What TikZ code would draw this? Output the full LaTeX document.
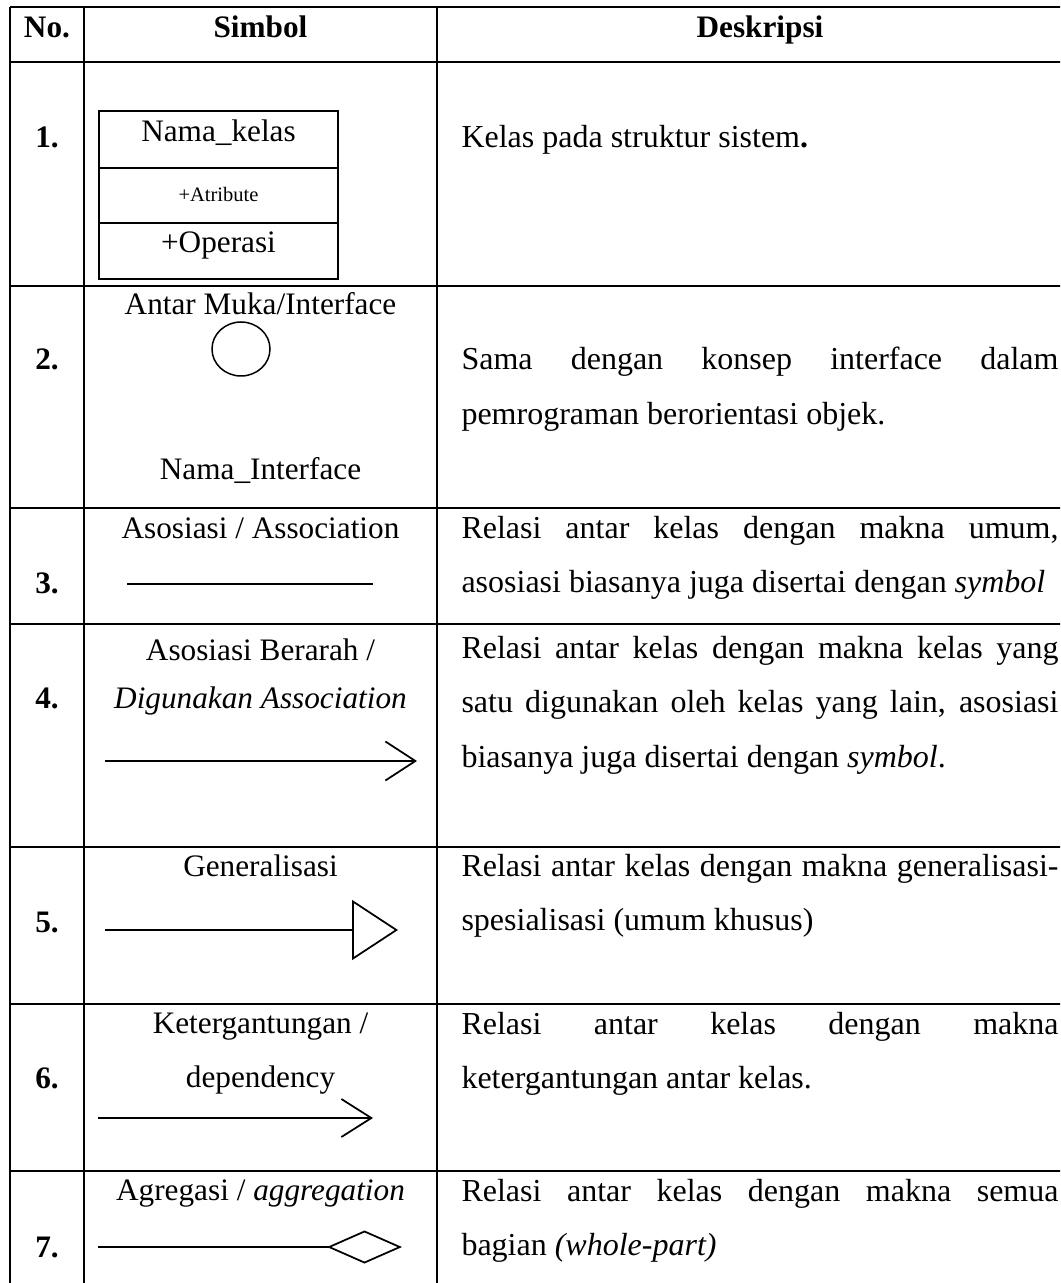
\documentclass[tikz,border=0pt]{standalone}
\usepackage{fontspec}
\setmainfont{Liberation Serif}
\usepackage{tikz}
\usetikzlibrary{arrows.meta,shapes.geometric}
\tolerance=10000
\hyphenpenalty=10000
\tikzstyle{rule} = [line width=1.1pt]
\tikzstyle{boxline} = [line width=1pt]
\tikzstyle{symline} = [line width=0.7pt]
\tikzstyle{head} = [anchor=base, inner sep=0pt, font=\bfseries]
\tikzstyle{nomor} = [anchor=base, inner sep=0pt, font=\bfseries]
\tikzstyle{symtext} = [anchor=base, inner sep=0pt]
\tikzstyle{desk} = [anchor=base west, inner sep=0pt, text width=238.8pt, align=justify,
    font=\fontsize{12.8}{21.8}\selectfont]

\begin{document}
\fontsize{12.5}{21.8}\selectfont
\begin{tikzpicture}[x=0.4pt,y=-0.4pt]
  \useasboundingbox (0,0) rectangle (1060,1283);
  \clip (0,0) rectangle (1060,1283);
  % Table rules
  \draw[rule] (10,7) -- (1070,7);
  \draw[rule] (10,62) -- (1070,62);
  \draw[rule] (10,286) -- (1070,286);
  \draw[rule] (10,508) -- (1070,508);
  \draw[rule] (10,624) -- (1070,624);
  \draw[rule] (10,847) -- (1070,847);
  \draw[rule] (10,1004) -- (1070,1004);
  \draw[rule] (10,1171) -- (1070,1171);
  \draw[rule] (10,7) -- (10,1290);
  \draw[rule] (84,7) -- (84,1290);
  \draw[rule] (437,7) -- (437,1290);
  % Header
  \node [head] (hNo) at (47,38) {No.};
  \node [head] (hSimbol) at (260.5,38) {Simbol};
  \node [head] (hDesk) at (760,38) {Deskripsi};
  % Numbers
  \node [nomor] (n1) at (47,148) {1.};
  \node [nomor] (n2) at (47,370) {2.};
  \node [nomor] (n3) at (47,593) {3.};
  \node [nomor] (n4) at (47,708) {4.};
  \node [nomor] (n5) at (47,932) {5.};
  \node [nomor] (n6) at (47,1088) {6.};
  \node [nomor] (n7) at (47,1257) {7.};
  % Class box
  \draw[boxline] (99,111) rectangle (338,279);
  \draw[boxline] (99,168) -- (338,168);
  \draw[boxline] (99,223) -- (338,223);
  \node [symtext] (kelasName) at (218.5,142) {Nama\_kelas};
  \node [symtext, font=\fontsize{8.2}{10}\selectfont] (kelasAttr) at (218.5,202) {+Atribute};
  \node [symtext] (kelasOp) at (218.5,253) {+Operasi};
  % Interface
  \node [symtext] (ifaceTop) at (260.5,315) {Antar Muka/Interface};
  \node [draw, ellipse, line width=0.6pt, minimum width=23.2pt, minimum height=21.6pt, inner sep=0pt] (iface) at (241,349) {};
  \node [symtext] (ifaceName) at (260.5,480) {Nama\_Interface};
  % Association
  \node [symtext] (asoLabel) at (260.5,538) {Asosiasi / Association};
  \coordinate (asoA) at (127,584);
  \coordinate (asoB) at (373,584);
  \draw[symline] (asoA) -- (asoB);
  % Directed association
  \node [symtext] (arahLabel) at (260.5,660) {Asosiasi Berarah /};
  \node [symtext] (arahLabelB) at (260.5,708) {\textit{Digunakan Association}};
  \coordinate (arahA) at (105,761);
  \coordinate (arahB) at (417,761);
  \draw[symline, -{Straight Barb[length=12pt,width=15.6pt]}] (arahA) -- (arahB);
  % Generalization
  \node [symtext] (genLabel) at (260.5,876) {Generalisasi};
  \coordinate (genA) at (105,930);
  \coordinate (genB) at (398,930);
  \draw[symline, -{Triangle[open,length=18.4pt,width=24pt]}] (genA) -- (genB);
  % Dependency
  \node [symtext] (depLabel) at (260.5,1033) {Ketergantungan /};
  \node [symtext] (depLabelB) at (260.5,1087) {dependency};
  \coordinate (depA) at (98,1118);
  \coordinate (depB) at (373,1118);
  \draw[symline, -{Straight Barb[length=12pt,width=15.2pt]}] (depA) -- (depB);
  % Aggregation
  \node [symtext] (agrLabel) at (260.5,1200) {Agregasi / \textit{aggregation}};
  \coordinate (agrA) at (98,1247);
  \coordinate (agrB) at (402,1247);
  \draw[symline, -{Diamond[open,length=30pt,width=13.2pt]}] (agrA) -- (agrB);
  % Descriptions
  \node [desk] (d1) at (461,148) {Kelas pada struktur sistem\textbf{.}};
  \node [desk] (d2) at (461,370) {Sama dengan konsep interface dalam\linebreak pemrograman berorientasi objek.};
  \node [desk] (d3) at (461,538) {Relasi antar kelas dengan makna umum,\linebreak asosiasi biasanya juga disertai dengan \textit{symbol}};
  \node [desk] (d4) at (461,658) {Relasi antar kelas dengan makna kelas yang\linebreak satu digunakan oleh kelas yang lain, asosiasi\linebreak biasanya juga disertai dengan \textit{symbol}.};
  \node [desk] (d5) at (461,876) {Relasi antar kelas dengan makna generalisasi-\linebreak spesialisasi (umum khusus)};
  \node [desk] (d6) at (461,1034) {Relasi antar kelas dengan makna\linebreak ketergantungan antar kelas.};
  \node [desk] (d7) at (461,1201) {Relasi antar kelas dengan makna semua\linebreak bagian \textit{(whole-part)}};
\end{tikzpicture}
\end{document}
